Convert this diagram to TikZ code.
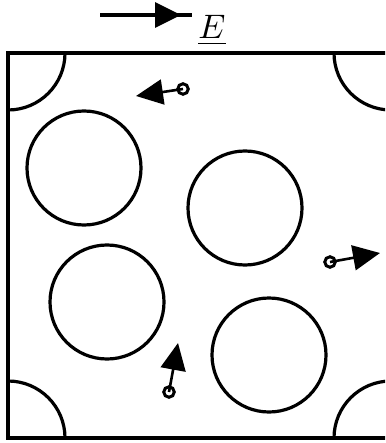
\documentclass[tikz,border=0pt]{standalone}
\usetikzlibrary{arrows.meta}
\begin{document}
\begin{tikzpicture}[x=1pt,y=-1pt,
  wall/.style={line width=3.4pt},
  grain/.style={line width=3.2pt},
  charge/.style={circle,draw,line width=3pt,minimum size=10.5pt,inner sep=0pt},
  field/.style={line width=2.6pt,-{Triangle[length=27pt,width=25pt]}},
  efield/.style={line width=3.2pt,-{Triangle[length=26pt,width=25pt]}}]
\useasboundingbox (0,0) rectangle (385,443);
\clip (0,0) rectangle (385,443);
% field arrow E
\coordinate (e0) at (100,15);
\coordinate (e1) at (192,15);
\coordinate (e2) at (181,15);
\draw[line width=3.2pt] (e0) -- (e1);
\draw[efield] (e0) -- (e2);
\node[anchor=base,scale=3.4,inner sep=0pt] (E) at (212,39) {$\underline{E}$};
% box
\begin{scope}
\clip (8,53) rectangle (391,438);
\draw[grain] (8,53) circle[radius=57];
\draw[grain] (391,53) circle[radius=57];
\draw[grain] (8,438) circle[radius=57];
\draw[grain] (391,438) circle[radius=57];
\end{scope}
\draw[wall] (8,53) rectangle (391,438);
% grains
\draw[grain] (84,168) circle[radius=57];
\draw[grain] (245,208) circle[radius=57];
\draw[grain] (107,302) circle[radius=57];
\draw[grain] (269,355) circle[radius=57];
% charges
\node[charge] (q1) at (183,89) {};
\coordinate (t1) at (136,96);
\draw[field] (q1.center) -- (t1);
\node[charge] (q2) at (330,262) {};
\coordinate (t2) at (380,253);
\draw[field] (q2.center) -- (t2);
\node[charge] (q3) at (169,392) {};
\coordinate (t3) at (178,343);
\draw[field] (q3.center) -- (t3);
\end{tikzpicture}
\end{document}
